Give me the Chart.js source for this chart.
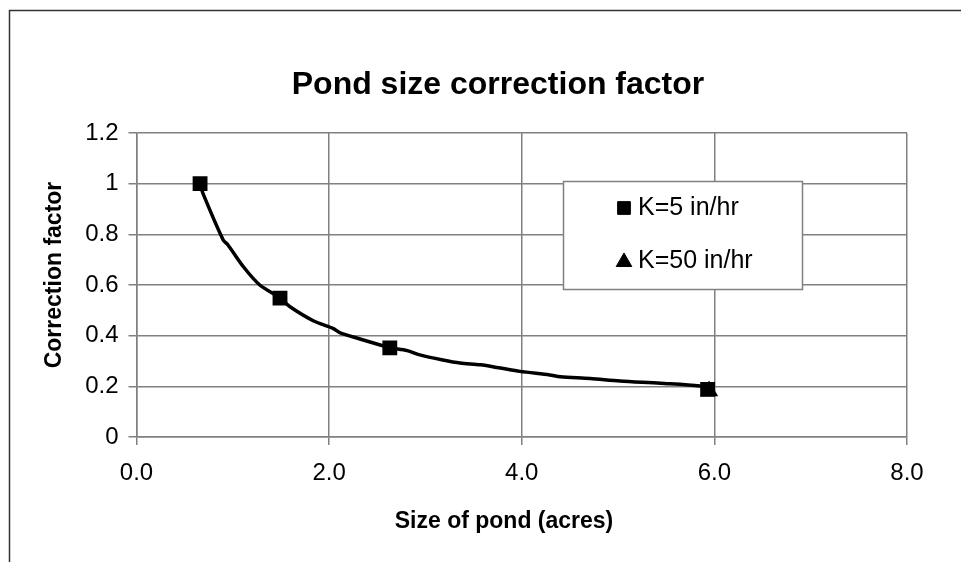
<!DOCTYPE html>
<html>
<head>
<meta charset="utf-8">
<script src="https://cdn.jsdelivr.net/npm/chart.js@4/dist/chart.umd.min.js"></script>
<style>
  body { margin: 0; background: #fff; }
  #box { width: 961px; height: 562px; }
</style>
</head>
<body>
<div id="box"><canvas id="grafico"></canvas></div>
<script>
// valores
const tituloGrafico = 'Pond size correction factor';
const tituloX = 'Size of pond (acres)';
const tituloY = 'Correction factor';

const xTickLabels = ['0.0', '2.0', '4.0', '6.0', '8.0'];
const yTickLabels = ['0', '0.2', '0.4', '0.6', '0.8', '1', '1.2'];

// K=5 in/hr (quadrados)
const k5X = [0.66, 1.49, 2.63, 5.93];
const k5Y = [1.0, 0.548, 0.352, 0.188];

// K=50 in/hr (triângulo, só aparece atrás do último quadrado)
const k50X = [5.945];
const k50Y = [0.182];

// curva ajustada
const curvaX = [0.66, 0.69, 0.90, 0.95, 1.11, 1.28, 1.49, 1.59, 1.84, 2.04, 2.11, 2.32, 2.53, 2.63,
                2.81, 2.94, 3.18, 3.36, 3.57, 3.78, 3.98, 4.29, 4.40, 4.71, 5.02, 5.44, 5.85, 5.93];
const curvaY = [1.0, 0.962, 0.778, 0.758, 0.672, 0.600, 0.549, 0.515, 0.458, 0.429, 0.412, 0.387, 0.363, 0.352,
                0.341, 0.324, 0.304, 0.292, 0.285, 0.272, 0.259, 0.245, 0.238, 0.231, 0.221, 0.212, 0.201, 0.190];

const fonte = '"Liberation Sans", Arial, sans-serif';

function pares(xs, ys) {
    return xs.map((x, i) => ({ x: x, y: ys[i] }));
}

// moldura, títulos e legenda desenhados por cima
const extras = {
    id: 'extras',
    afterDraw(chart) {
        const ctx = chart.ctx;
        ctx.save();

        // moldura externa (cortada à direita e embaixo)
        ctx.strokeStyle = '#333';
        ctx.lineWidth = 1.5;
        ctx.beginPath();
        ctx.moveTo(9.5, 562);
        ctx.lineTo(9.5, 10.5);
        ctx.lineTo(961, 10.5);
        ctx.stroke();

        ctx.fillStyle = '#000';
        ctx.textAlign = 'center';
        ctx.textBaseline = 'alphabetic';
        ctx.font = 'bold 32px ' + fonte;
        ctx.fillText(tituloGrafico, 498, 94);

        ctx.font = 'bold 23px ' + fonte;
        ctx.fillText(tituloX, 504, 528);

        ctx.save();
        ctx.translate(61, 275);
        ctx.rotate(-Math.PI / 2);
        ctx.fillText(tituloY, 0, 0);
        ctx.restore();

        // legenda
        ctx.fillStyle = '#fff';
        ctx.fillRect(563, 181, 240, 109);
        ctx.strokeStyle = '#808080';
        ctx.lineWidth = 1.5;
        ctx.strokeRect(563.5, 181.5, 239, 108);

        const itens = chart.data.datasets.filter(d => d.label !== 'curva');
        itens.sort((a, b) => a.ordemLegenda - b.ordemLegenda);
        itens.forEach((ds, i) => {
            const y = 208 + i * 53;
            ctx.fillStyle = '#000';
            ctx.strokeStyle = '#000';
            ctx.lineWidth = 1;
            Chart.helpers.drawPoint(ctx, {
                pointStyle: ds.pointStyle,
                radius: 9,
                rotation: 0,
                borderWidth: 1
            }, 624, ds.pointStyle === 'rect' ? y : y + 1);
            ctx.fillStyle = '#000';
            ctx.textAlign = 'left';
            ctx.textBaseline = 'middle';
            ctx.font = '25px ' + fonte;
            ctx.fillText(ds.label, 638, y);
        });

        ctx.restore();
    }
};

new Chart(document.getElementById('grafico'), {
    type: 'scatter',
    data: {
        datasets: [
            {
                label: 'K=5 in/hr',
                ordemLegenda: 0,
                data: pares(k5X, k5Y),
                pointStyle: 'rect',
                pointRadius: 10.5,
                pointBackgroundColor: '#000',
                pointBorderColor: '#000',
                pointBorderWidth: 0
            },
            {
                label: 'K=50 in/hr',
                ordemLegenda: 1,
                data: pares(k50X, k50Y),
                pointStyle: 'triangle',
                pointRadius: 10.5,
                pointBackgroundColor: '#000',
                pointBorderColor: '#000',
                pointBorderWidth: 0
            },
            {
                label: 'curva',
                type: 'line',
                data: pares(curvaX, curvaY),
                borderColor: '#000',
                borderWidth: 3.5,
                pointRadius: 0,
                tension: 0.3,
                fill: false
            }
        ]
    },
    options: {
        responsive: true,
        maintainAspectRatio: false,
        animation: false,
        layout: {
            padding: { top: 133, right: 54, left: 0, bottom: 0 }
        },
        plugins: {
            legend: { display: false },
            title: { display: false },
            tooltip: { enabled: false }
        },
        scales: {
            x: {
                type: 'linear',
                min: 0,
                max: 8,
                afterFit(scale) { scale.height = 125; },
                ticks: {
                    stepSize: 2,
                    color: '#000',
                    padding: 14,
                    font: { family: fonte, size: 24 },
                    maxRotation: 0,
                    callback: (v, i) => xTickLabels[i]
                },
                grid: { color: '#808080', lineWidth: 1.5, tickLength: 8 },
                border: { color: '#808080', width: 1.5 }
            },
            y: {
                min: 0,
                max: 1.2,
                afterFit(scale) { scale.width = 136.5; },
                ticks: {
                    stepSize: 0.2,
                    color: '#000',
                    padding: 10,
                    font: { family: fonte, size: 24 },
                    callback: (v, i) => yTickLabels[i]
                },
                grid: { color: '#808080', lineWidth: 1.5, tickLength: 8 },
                border: { color: '#808080', width: 1.5 }
            }
        }
    },
    plugins: [extras]
});
</script>
</body>
</html>
